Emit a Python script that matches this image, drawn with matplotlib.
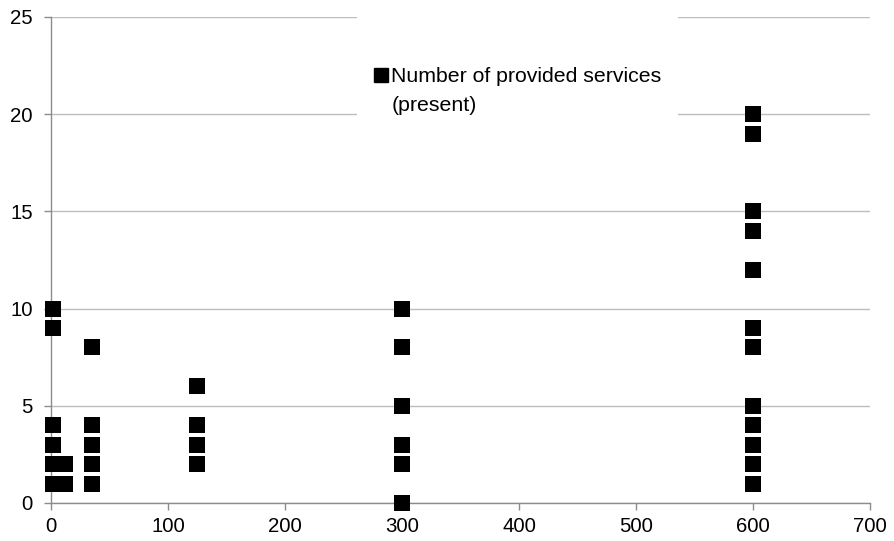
import matplotlib
matplotlib.use("Agg")
import matplotlib.pyplot as plt
from matplotlib.lines import Line2D
from matplotlib.patches import Rectangle

plt.rcParams['font.family'] = ['Liberation Sans', 'DejaVu Sans']

# data: (x, y) values by column
x_vals = [2, 2, 2, 2, 2, 2, 12, 12,
          35, 35, 35, 35, 35,
          125, 125, 125, 125,
          300, 300, 300, 300, 300, 300,
          600, 600, 600, 600, 600, 600, 600, 600, 600, 600, 600, 600]
y_vals = [10, 9, 4, 3, 2, 1, 2, 1,
          8, 4, 3, 2, 1,
          6, 4, 3, 2,
          10, 8, 5, 3, 2, 0,
          20, 19, 15, 14, 12, 9, 8, 5, 4, 3, 2, 1]
series_label = ["Number of provided services", "(present)"]
x_ticks = [0, 100, 200, 300, 400, 500, 600, 700]
y_ticks = [0, 5, 10, 15, 20, 25]

fig = plt.figure(figsize=(8.94, 5.41), dpi=100)
ax = fig.add_axes([51/894, 1 - 503/541, (870-51)/894, (503-17)/541])

ax.scatter(x_vals, y_vals, marker='s', s=12.2**2, color='black', zorder=5,
           linewidths=0, clip_on=False)

ax.set_xlim(0, 700)
ax.set_ylim(0, 25)
ax.set_xticks(x_ticks)
ax.set_yticks(y_ticks)
ax.yaxis.grid(True, color='#bdbdbd', linewidth=1.0)
ax.set_axisbelow(True)
for s in ['top', 'right']:
    ax.spines[s].set_visible(False)
for s in ['left', 'bottom']:
    ax.spines[s].set_color('#8c8c8c')
    ax.spines[s].set_linewidth(1.0)
ax.tick_params(axis='both', colors='#8c8c8c', length=5, width=1.0,
               labelcolor='black', labelsize=14.7)
ax.tick_params(axis='x', pad=5)
ax.tick_params(axis='y', pad=8)

# white legend background interrupting gridlines
ax.add_patch(Rectangle(((357-51)/819, (503-120)/486), (678-357)/819, 0.3,
                       transform=ax.transAxes, facecolor='white', edgecolor='none',
                       zorder=1.5, clip_on=False))

handles = [Line2D([], [], marker='s', color='black', linestyle='none', markersize=10),
           Line2D([], [], marker='s', color='none', linestyle='none', markersize=10)]
leg = ax.legend(handles, series_label, loc='upper left',
                bbox_to_anchor=(373/894, 1 - 67/541), bbox_transform=fig.transFigure,
                frameon=False, fontsize=15.3, handlelength=0.75, handletextpad=0.12,
                labelspacing=0.45, borderpad=0, borderaxespad=0)

fig.savefig('out.png', dpi=100)
